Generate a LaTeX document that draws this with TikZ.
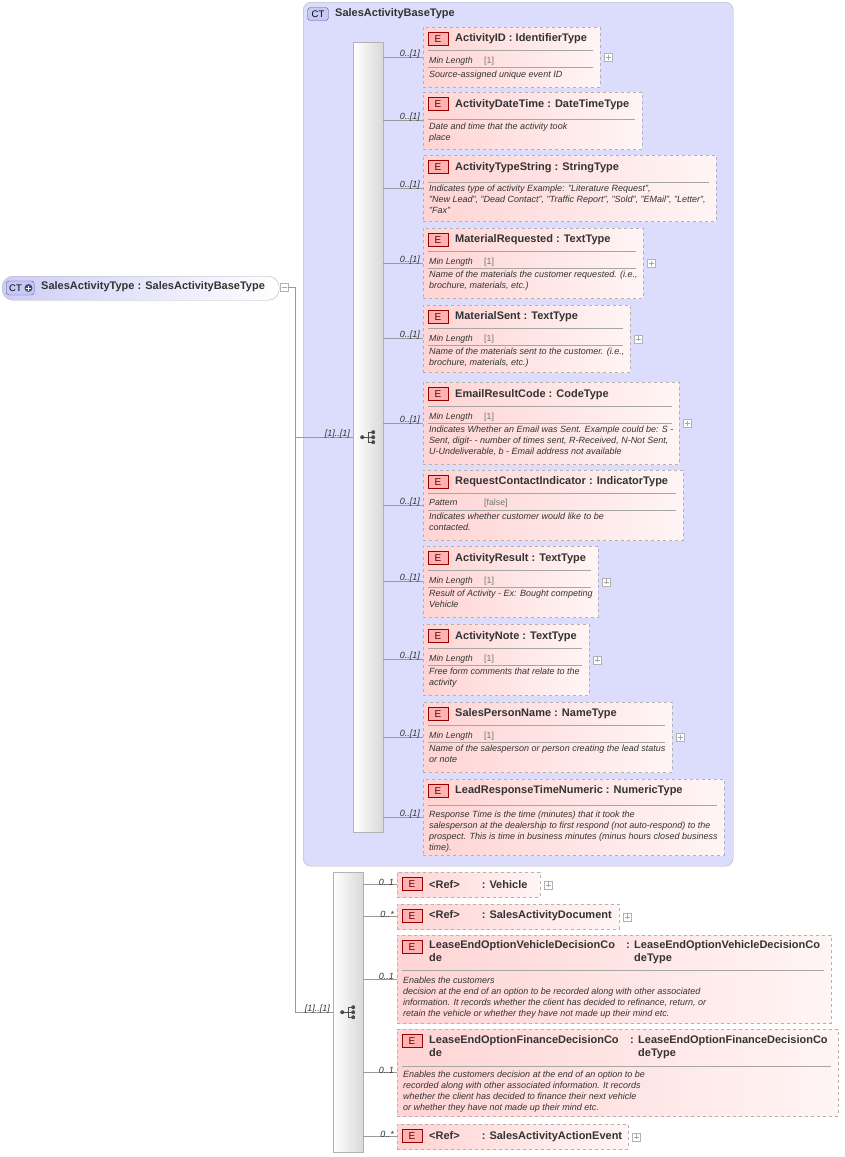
\documentclass[tikz,border=0pt]{standalone}
\usepackage{fontspec}
\setmainfont{Liberation Sans}
\definecolor{ctfill}{RGB}{220,220,252}
\definecolor{ctbd}{RGB}{90,90,150}
\definecolor{ctbf}{RGB}{200,200,245}
\definecolor{rootl}{RGB}{205,205,248}
\definecolor{plusc}{RGB}{70,70,130}
\begin{document}
\begin{tikzpicture}[x=1pt,y=-1pt,
 elem/.style={draw=gray!60, dashed, left color=red!17, right color=red!4, rectangle, anchor=north west, inner sep=0},
 badge/.style={draw=red!60!black, fill=red!30, minimum width=20, minimum height=13, inner sep=0, font=\fontsize{10}{11}\selectfont, text=red!40!black},
 ttl/.style={font=\fontsize{11}{12.5}\bfseries\selectfont, inner sep=0, text=black!80},
 fct/.style={font=\fontsize{8.8}{10}\itshape\selectfont, inner sep=0, anchor=west, text=black!80},
 fval/.style={font=\fontsize{8.8}{10}\selectfont, inner sep=0, anchor=west, text=black!55},
 doc/.style={font=\fontsize{9}{11}\itshape\selectfont, inner sep=0, anchor=north west, align=left, text=black!80},
 lbl/.style={font=\fontsize{9}{10}\itshape\selectfont, inner sep=0, anchor=south east, text=black!80},
 sep/.style={draw=gray!70, line width=0.6pt},
 seq/.style={draw=gray!60, left color=white, right color=gray!30, rectangle, anchor=north west, inner sep=0},
 conn/.style={draw=gray!80, line width=0.6pt},
 pbox/.style={draw=gray!60, fill=white, minimum width=8, minimum height=8, inner sep=0}
]
\useasboundingbox (0,0) rectangle (844,1157);
\newcommand\El[6]{%
 \node[elem, minimum width={#4-#2}, minimum height={#5-#3}] (#1) at (#2,#3) {};
 \node[badge] (#1b) at (#2+15,#3+12) {E};
}
\newcommand\Ti[3]{\node[ttl, anchor=west] at (#1+32,#2+1) {#3};}
\newcommand\Sp[3]{\draw[sep] (#1+5,#3) -- (#2-7,#3);}
\newcommand\Fa[4]{\node[fct] at (#1+6,#2) {#3}; \node[fval] at (#1+61,#2) {#4};}
\newcommand\Dc[3]{\node[doc] at (#1+6,#2-4) {#3};}
\newcommand\Pl[2]{\node[pbox] (#1p) at ([xshift=8]#1.east) {}; \draw[gray!70,line width=0.4pt] ([xshift=-2.5]#1p.center) -- ([xshift=2.5]#1p.center) ([yshift=-2.5]#1p.center) -- ([yshift=2.5]#1p.center);}
\newcommand\seqicon[1]{%
 \begin{scope}[shift={(#1)}]
 \fill[black!70] (-6,0) circle (2);
 \draw[black!70,line width=1pt] (-6,0) -- (0,0) (0,-5) -- (0,5) (0,-5) -- (5,-5) (0,0) -- (5,0) (0,5) -- (5,5);
 \fill[black!70] (5,-5) circle (2) (5,0) circle (2) (5,5) circle (2);
 \end{scope}}

% CT base container
\node[draw=gray!60, fill=ctfill, rounded corners=8, minimum width=430, minimum height=864, anchor=north west, inner sep=0] (ct) at (303,2) {};
\node[draw=ctbd, fill=ctbf, rounded corners=3, minimum width=21, minimum height=13, inner sep=0, font=\fontsize{9.5}{10}\selectfont] (ctb) at (318,14) {CT};
\node[ttl, anchor=west] (ctt) at (335,14) {SalesActivityBaseType};

% root
\node[draw=gray!60, rounded corners=11, left color=rootl, right color=white, minimum width=277, minimum height=24, anchor=north west, inner sep=0] (root) at (2,276) {};
\node[draw=ctbd, fill=ctbf, rounded corners=3, minimum width=28, minimum height=14, inner sep=0, anchor=west] (rootb) at (6,288) {};
\node[inner sep=0, anchor=west, font=\fontsize{9.5}{10}\selectfont] (rootbt) at (9,288) {CT};
\fill[plusc] (28.5,288) circle (4);
\draw[white,line width=1pt] (26,288) -- (31,288) (28.5,285.5) -- (28.5,290.5);
\node[ttl, anchor=west] (roott) at (41,287) {SalesActivityType : SalesActivityBaseType};
\node[pbox] (rootm) at (284,287) {};
\draw[gray!70,line width=0.4pt] (281.5,287) -- (286.5,287);

% sequences
\node[seq, minimum width=30, minimum height=790] (seqA) at (353,42) {};
\seqicon{seqA.center}
\node[seq, minimum width=30, minimum height=280] (seqB) at (333,872) {};
\seqicon{seqB.center}

\coordinate (tk) at (295,287);
\draw[conn] (rootm.east) -- (tk) |- (seqB.west);
\draw[conn] (tk |- seqA.west) -- (seqA.west);
\node[lbl] at ([xshift=-3,yshift=-1]seqA.west) {[1]..[1]};
\node[lbl] at ([xshift=-3,yshift=-1]seqB.west) {[1]..[1]};

% elements A
\El{a1}{423}{27}{600}{87}{}\Ti{423}{38}{ActivityID : IdentifierType}\Sp{423}{600}{50}\Fa{423}{61}{Min Length}{[1]}\Sp{423}{600}{67}\Dc{423}{75}{Source-assigned unique event ID}\Pl{a1}{}
\El{a2}{423}{92}{642}{149}{}\Ti{423}{104}{ActivityDateTime : DateTimeType}\Sp{423}{642}{119}\Dc{423}{127}{Date and time that the activity took\\place}
\El{a3}{423}{155}{716}{221}{}\Ti{423}{167}{ActivityTypeString : StringType}\Sp{423}{716}{182}\Dc{423}{189}{Indicates type of activity Example: "Literature Request",\\"New Lead", "Dead Contact", "Traffic Report", "Sold", "EMail", "Letter",\\"Fax"}
\El{a4}{423}{228}{643}{298}{}\Ti{423}{239}{MaterialRequested : TextType}\Sp{423}{643}{251}\Fa{423}{262}{Min Length}{[1]}\Sp{423}{643}{268}\Dc{423}{275}{Name of the materials the customer requested. (i.e.,\\brochure, materials, etc.)}\Pl{a4}{}
\El{a5}{423}{305}{630}{372}{}\Ti{423}{316}{MaterialSent : TextType}\Sp{423}{630}{328}\Fa{423}{339}{Min Length}{[1]}\Sp{423}{630}{345}\Dc{423}{352}{Name of the materials sent to the customer. (i.e.,\\brochure, materials, etc.)}\Pl{a5}{}
\El{a6}{423}{382}{679}{464}{}\Ti{423}{394}{EmailResultCode : CodeType}\Sp{423}{679}{406}\Fa{423}{417}{Min Length}{[1]}\Sp{423}{679}{423}\Dc{423}{430}{Indicates Whether an Email was Sent. Example could be: S -\\Sent, digit- - number of times sent, R-Received, N-Not Sent,\\U-Undeliverable, b - Email address not available}\Pl{a6}{}
\El{a7}{423}{470}{683}{540}{}\Ti{423}{481}{RequestContactIndicator : IndicatorType}\Sp{423}{683}{493}\Fa{423}{503}{Pattern}{[false]}\Sp{423}{683}{510}\Dc{423}{517}{Indicates whether customer would like to be\\contacted.}
\El{a8}{423}{546}{598}{617}{}\Ti{423}{558}{ActivityResult : TextType}\Sp{423}{598}{570}\Fa{423}{581}{Min Length}{[1]}\Sp{423}{598}{587}\Dc{423}{594}{Result of Activity - Ex: Bought competing\\Vehicle}\Pl{a8}{}
\El{a9}{423}{624}{589}{695}{}\Ti{423}{636}{ActivityNote : TextType}\Sp{423}{589}{648}\Fa{423}{659}{Min Length}{[1]}\Sp{423}{589}{665}\Dc{423}{672}{Free form comments that relate to the\\activity}\Pl{a9}{}
\El{a10}{423}{702}{672}{772}{}\Ti{423}{713}{SalesPersonName : NameType}\Sp{423}{672}{725}\Fa{423}{736}{Min Length}{[1]}\Sp{423}{672}{742}\Dc{423}{749}{Name of the salesperson or person creating the lead status\\or note}\Pl{a10}{}
\El{a11}{423}{779}{724}{855}{}\Ti{423}{790}{LeadResponseTimeNumeric : NumericType}\Sp{423}{724}{805}\Dc{423}{815}{Response Time is the time (minutes) that it took the\\salesperson at the dealership to first respond (not auto-respond) to the\\prospect. This is time in business minutes (minus hours closed business\\time).}

\foreach \n in {a1,a2,a3,a4,a5,a6,a7,a8,a9,a10,a11}{
 \draw[conn] (seqA.east |- \n.west) -- (\n.west);
 \node[lbl] at ([xshift=-3,yshift=-1]\n.west) {0..[1]};
}

% elements B
\El{b1}{397}{872}{540}{897}{}\node[ttl,anchor=west] at (429,885) {<Ref>\hspace{22pt}: Vehicle};\Pl{b1}{}
\El{b2}{397}{904}{619}{929}{}\node[ttl,anchor=west] at (429,916) {<Ref>\hspace{22pt}: SalesActivityDocument};\Pl{b2}{}
\El{b3}{397}{935}{831}{1023}{}
\node[ttl,anchor=north west,align=left] at (429,940) {\strut LeaseEndOptionVehicleDecisionCo\\de};
\node[ttl,anchor=north west,align=left] at (626,940) {\strut:\\\phantom{d}};
\node[ttl,anchor=north west,align=left] at (634,940) {\strut LeaseEndOptionVehicleDecisionCo\\deType};
\Sp{397}{831}{970}\Dc{397}{981}{Enables the customers\\decision at the end of an option to be recorded along with other associated\\information. It records whether the client has decided to refinance, return, or\\retain the vehicle or whether they have not made up their mind etc.}
\El{b4}{397}{1029}{838}{1116}{}
\node[ttl,anchor=north west,align=left] at (429,1035) {\strut LeaseEndOptionFinanceDecisionCo\\de};
\node[ttl,anchor=north west,align=left] at (630,1035) {\strut:\\\phantom{d}};
\node[ttl,anchor=north west,align=left] at (638,1035) {\strut LeaseEndOptionFinanceDecisionCo\\deType};
\Sp{397}{838}{1066}\Dc{397}{1075}{Enables the customers decision at the end of an option to be\\recorded along with other associated information. It records\\whether the client has decided to finance their next vehicle\\or whether they have not made up their mind etc.}
\El{b5}{397}{1124}{628}{1149}{}\node[ttl,anchor=west] at (429,1137) {<Ref>\hspace{22pt}: SalesActivityActionEvent};\Pl{b5}{}

\foreach \n/\m in {b1/0..1,b2/0..*,b3/0..1,b4/0..1,b5/0..*}{
 \draw[conn] (seqB.east |- \n.west) -- (\n.west);
 \node[lbl] at ([xshift=-3,yshift=-1]\n.west) {\m};
}
\end{tikzpicture}
\end{document}
